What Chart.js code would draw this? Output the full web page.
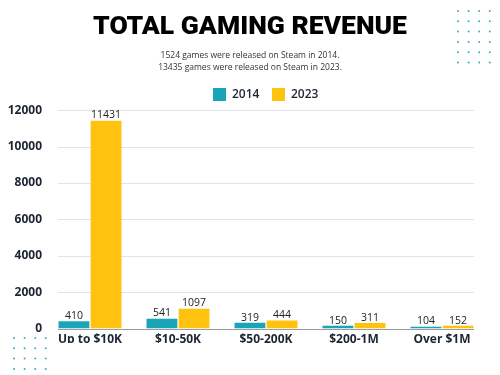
<!DOCTYPE html>
<html>
<head>
<meta charset="utf-8">
<script src="https://cdn.jsdelivr.net/npm/chart.js@4"></script>
<style>
  html, body { margin: 0; padding: 0; background: #fff; }
  #wrap { width: 500px; height: 375px; position: relative; }
</style>
</head>
<body>
<div id="wrap"><canvas id="chart" width="500" height="375"></canvas></div>
<script>
const categories = ['Up to $10K', '$10-50K', '$50-200K', '$200-1M', 'Over $1M'];
const games2014 = [410, 541, 319, 150, 104];
const games2023 = [11431, 1097, 444, 311, 152];
const yTicks = [0, 2000, 4000, 6000, 8000, 10000, 12000];

const TEAL = '#1aa4b7';
const YELLOW = '#ffc20e';
const INK = '#1d2533';

// grid lines drawn a bit narrower than the chart area
const gridPlugin = {
  id: 'grid',
  beforeDatasetsDraw(chart) {
    const ctx = chart.ctx;
    const y = chart.scales.y;
    ctx.save();
    yTicks.forEach(v => {
      const py = Math.round(y.getPixelForValue(v)) + 0.5;
      ctx.strokeStyle = v === 0 ? '#9a9a9a' : '#e4e4e8';
      ctx.lineWidth = 1;
      ctx.beginPath();
      ctx.moveTo(58, py);
      ctx.lineTo(474, py);
      ctx.stroke();
    });
    ctx.restore();
  }
};

// value labels above bars
const valuePlugin = {
  id: 'values',
  afterDatasetsDraw(chart) {
    const ctx = chart.ctx;
    ctx.save();
    ctx.font = '10.5px "Open Sans", sans-serif';
    ctx.fillStyle = '#222';
    ctx.textAlign = 'center';
    ctx.textBaseline = 'bottom';
    chart.data.datasets.forEach((ds, i) => {
      chart.getDatasetMeta(i).data.forEach((bar, j) => {
        ctx.fillText(ds.data[j], bar.x, bar.y);
      });
    });
    ctx.restore();
  }
};

// legend drawn by hand, it sits right of centre in the original
const legendPlugin = {
  id: 'manualLegend',
  afterDraw(chart) {
    const ctx = chart.ctx;
    ctx.save();
    ctx.font = '600 12px "Open Sans", sans-serif';
    ctx.textBaseline = 'middle';
    let x = 213;
    chart.data.datasets.forEach(ds => {
      ctx.fillStyle = ds.backgroundColor;
      ctx.fillRect(x, 88, 13, 13);
      ctx.fillStyle = INK;
      ctx.fillText(ds.label, x + 19, 95);
      x += 59;
    });
    ctx.restore();
  }
};

// dotted decoration
const dotsPlugin = {
  id: 'dots',
  afterDraw(chart) {
    const ctx = chart.ctx;
    ctx.save();
    ctx.fillStyle = '#3aaebd';
    const grid = (x0, y0, cols, rows) => {
      for (let r = 0; r < rows; r++) {
        for (let c = 0; c < cols; c++) {
          ctx.beginPath();
          ctx.arc(x0 + c * 10.6, y0 + r * 10.3, 1, 0, Math.PI * 2);
          ctx.fill();
        }
      }
    };
    grid(458, 11, 4, 6);
    grid(14, 338, 4, 4);
    ctx.restore();
  }
};

new Chart(document.getElementById('chart'), {
  type: 'bar',
  data: {
    labels: categories,
    datasets: [
      { label: '2014', data: games2014, backgroundColor: TEAL },
      { label: '2023', data: games2023, backgroundColor: YELLOW }
    ]
  },
  options: {
    responsive: false,
    animation: false,
    layout: { padding: { left: 0, right: 0, top: 0, bottom: 32 } },
    datasets: {
      bar: { categoryPercentage: 0.73, barPercentage: 0.96 }
    },
    plugins: {
      title: {
        display: true,
        text: 'TOTAL GAMING REVENUE',
        color: '#000',
        font: { family: 'Roboto', size: 26.5, weight: '900', lineHeight: 1.2 },
        padding: { top: 11, bottom: 6 }
      },
      subtitle: {
        display: true,
        text: ['1524 games were released on Steam in 2014.', '13435 games were released on Steam in 2023.'],
        color: '#333',
        font: { family: '"Open Sans"', size: 8.5, lineHeight: 1.5 },
        padding: { top: 0, bottom: 36 }
      },
      legend: { display: false },
      tooltip: { enabled: false }
    },
    scales: {
      x: {
        grid: { display: false },
        border: { display: false },
        ticks: {
          color: INK,
          padding: -4,
          font: { family: '"Open Sans"', size: 12, weight: '700' }
        }
      },
      y: {
        min: 0,
        max: 12000,
        grid: { display: false },
        border: { display: false },
        afterFit(scale) { scale.width = 46; },
        afterBuildTicks(scale) { scale.ticks = yTicks.map(v => ({ value: v })); },
        ticks: {
          color: INK,
          padding: -4,
          callback: v => String(v),
          font: { family: '"Open Sans"', size: 12, weight: '700' }
        }
      },
      // empty right axis, only keeps a margin on the right
      yRight: {
        position: 'right',
        grid: { display: false },
        border: { display: false },
        ticks: { display: false },
        afterFit(scale) { scale.width = 14; }
      }
    }
  },
  plugins: [gridPlugin, valuePlugin, legendPlugin, dotsPlugin]
});
</script>
</body>
</html>
